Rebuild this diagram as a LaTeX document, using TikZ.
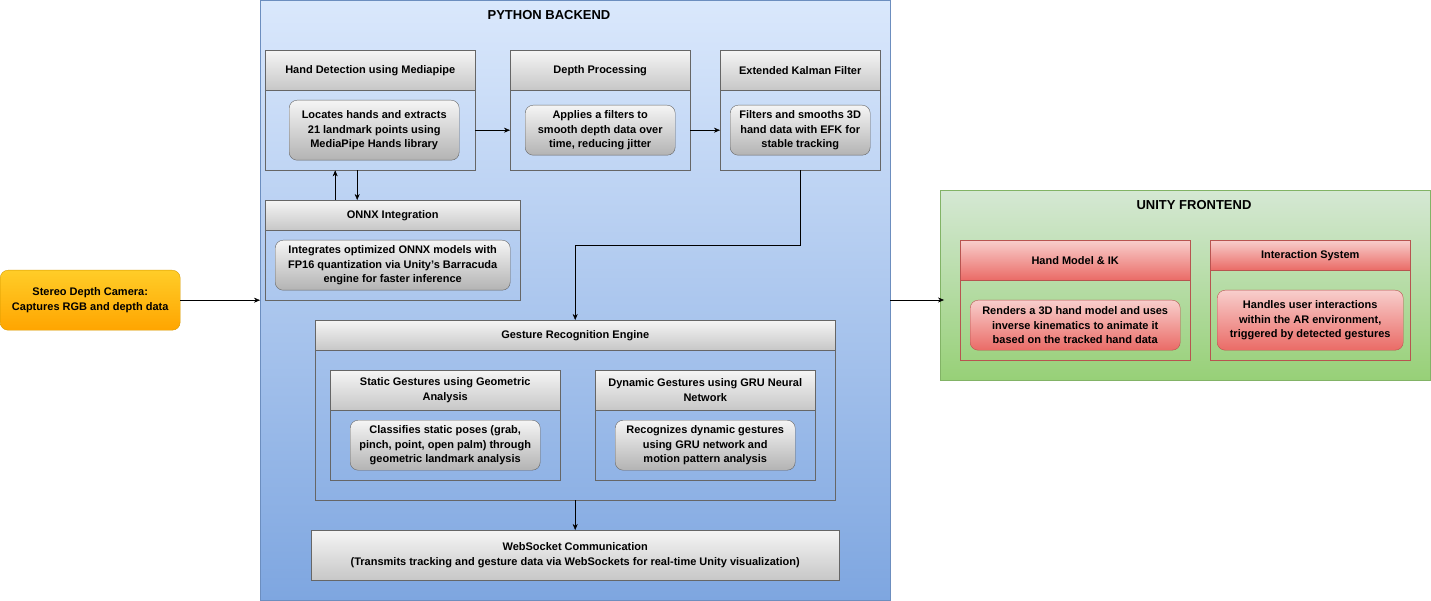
\documentclass[tikz,border=0pt]{standalone}
\usepackage{fontspec}
\setmainfont{Liberation Sans}
\usetikzlibrary{arrows.meta}
\definecolor{bluetop}{HTML}{DAE8FC}\definecolor{bluebot}{HTML}{7EA6E0}\definecolor{blueline}{HTML}{6C8EBF}
\definecolor{greentop}{HTML}{D5E8D4}\definecolor{greenbot}{HTML}{97D077}\definecolor{greenline}{HTML}{82B366}
\definecolor{redtop}{HTML}{F8CECC}\definecolor{redbot}{HTML}{EA6B66}\definecolor{redline}{HTML}{B85450}
\definecolor{graytop}{HTML}{F5F5F5}\definecolor{graybot}{HTML}{B3B3B3}\definecolor{grayline}{HTML}{666666}
\definecolor{orangetop}{HTML}{FFCD28}\definecolor{orangebot}{HTML}{FFA500}\definecolor{orangeline}{HTML}{D79B00}
\tikzset{
  box/.style={anchor=north west, inner sep=0pt, font=\fontsize{11}{14.5}\selectfont\bfseries, align=center},
  lane/.style={box, draw=grayline, fill=none},
  head/.style={box, draw=grayline, top color=graytop, bottom color=graybot!70!graytop},
  card/.style={box, draw=grayline, rounded corners=8pt, top color=graytop, bottom color=graybot},
  redlane/.style={box, draw=redline},
  redhead/.style={box, draw=redline, top color=redtop, bottom color=redbot},
  redcard/.style={box, draw=redline, rounded corners=8pt, top color=redtop, bottom color=redbot},
  link/.style={draw=black, -{Stealth[length=6pt,width=5pt]}}
}
\begin{document}
\begin{tikzpicture}[x=1pt,y=-1pt]
  \useasboundingbox (0,0) rectangle (1431,601);
  % containers
  \node[box, draw=blueline, top color=bluetop, bottom color=bluebot, minimum width=630, minimum height=600] (py) at (260,0) {};
  \node[box, font=\fontsize{13}{15}\selectfont\bfseries] (pytitle) at (549,15) [anchor=center] {PYTHON BACKEND};
  \node[box, draw=greenline, top color=greentop, bottom color=greenbot, minimum width=490, minimum height=190] (un) at (940,190) {};
  \node[box, font=\fontsize{13}{15}\selectfont\bfseries] (untitle) at (1194,205) [anchor=center] {UNITY FRONTEND};
  % camera
  \node[box, draw=orangeline, rounded corners=8pt, top color=orangetop, bottom color=orangebot, minimum width=180, minimum height=60] (cam) at (0,270) {Stereo Depth Camera:\\Captures RGB and depth data};
  % hand detection
  \node[lane, minimum width=210, minimum height=120] (hd) at (265,50) {};
  \node[head, minimum width=210, minimum height=40] (hdh) at (265,50) {Hand Detection using Mediapipe};
  \node[card, minimum width=170, minimum height=60] (hdc) at (289,100) {Locates hands and extracts\\21 landmark points using\\MediaPipe Hands library};
  % depth processing
  \node[lane, minimum width=180, minimum height=120] (dp) at (510,50) {};
  \node[head, minimum width=180, minimum height=40] (dph) at (510,50) {Depth Processing};
  \node[card, minimum width=150, minimum height=50] (dpc) at (525,105) {Applies a filters to\\smooth depth data over\\time, reducing jitter};
  % kalman
  \node[lane, minimum width=160, minimum height=120] (ekf) at (720,50) {};
  \node[head, minimum width=160, minimum height=40] (ekfh) at (720,50) {Extended Kalman Filter};
  \node[card, minimum width=140, minimum height=50] (ekfc) at (730,105) {Filters and smooths 3D\\hand data with EFK for\\stable tracking};
  % onnx
  \node[lane, minimum width=255, minimum height=100] (onnx) at (265,200) {};
  \node[head, minimum width=255, minimum height=30] (onnxh) at (265,200) {ONNX Integration};
  \node[card, minimum width=235, minimum height=50] (onnxc) at (275,240) {Integrates optimized ONNX models with\\FP16 quantization via Unity's Barracuda\\engine for faster inference};
  % gesture engine
  \node[lane, minimum width=520, minimum height=180] (ge) at (315,320) {};
  \node[head, minimum width=520, minimum height=30] (geh) at (315,320) {Gesture Recognition Engine};
  \node[lane, minimum width=230, minimum height=110] (st) at (330,370) {};
  \node[head, minimum width=230, minimum height=40] (sth) at (330,370) {Static Gestures using Geometric\\Analysis};
  \node[card, minimum width=190, minimum height=50] (stc) at (350,420) {Classifies static poses (grab,\\pinch, point, open palm) through\\geometric landmark analysis};
  \node[lane, minimum width=220, minimum height=110] (dy) at (595,370) {};
  \node[head, minimum width=220, minimum height=40] (dyh) at (595,370) {Dynamic Gestures using GRU Neural\\Network};
  \node[card, minimum width=180, minimum height=50] (dyc) at (615,420) {Recognizes dynamic gestures\\using GRU network and\\motion pattern analysis};
  % websocket
  \node[head, minimum width=528, minimum height=50] (ws) at (311,530) {WebSocket Communication\\(Transmits tracking and gesture data via WebSockets for real-time Unity visualization)};
  % unity parts
  \node[redlane, minimum width=230, minimum height=120] (hm) at (960,240) {};
  \node[redhead, minimum width=230, minimum height=40] (hmh) at (960,240) {Hand Model \& IK};
  \node[redcard, minimum width=210, minimum height=50] (hmc) at (970,300) {Renders a 3D hand model and uses\\inverse kinematics to animate it\\based on the tracked hand data};
  \node[redlane, minimum width=200, minimum height=120] (is) at (1210,240) {};
  \node[redhead, minimum width=200, minimum height=30] (ish) at (1210,240) {Interaction System};
  \node[redcard, minimum width=186, minimum height=60] (isc) at (1217,290) {Handles user interactions\\within the AR environment,\\triggered by detected gestures};
  % connectors
  \coordinate (unin) at (944,300);
  \draw[link] (cam.east) -- (cam.east -| py.west);
  \draw[link] (py.east |- unin) -- (unin);
  \draw[link] ([yshift=-20pt]hd.east) -- ([yshift=-20pt]hd.east -| dp.west);
  \draw[link] ([yshift=-20pt]dp.east) -- ([yshift=-20pt]dp.east -| ekf.west);
  \draw[link] ([xshift=-35pt]hd.south |- onnx.north) -- ([xshift=-35pt]hd.south);
  \draw[link] ([xshift=-13pt]hd.south) -- ([xshift=-13pt]hd.south |- onnx.north);
  \draw[link] (ekf.south) -- ++(0,75) -| (ge.north);
  \draw[link] (ge.south) -- (ge.south |- ws.north);
\end{tikzpicture}
\end{document}
